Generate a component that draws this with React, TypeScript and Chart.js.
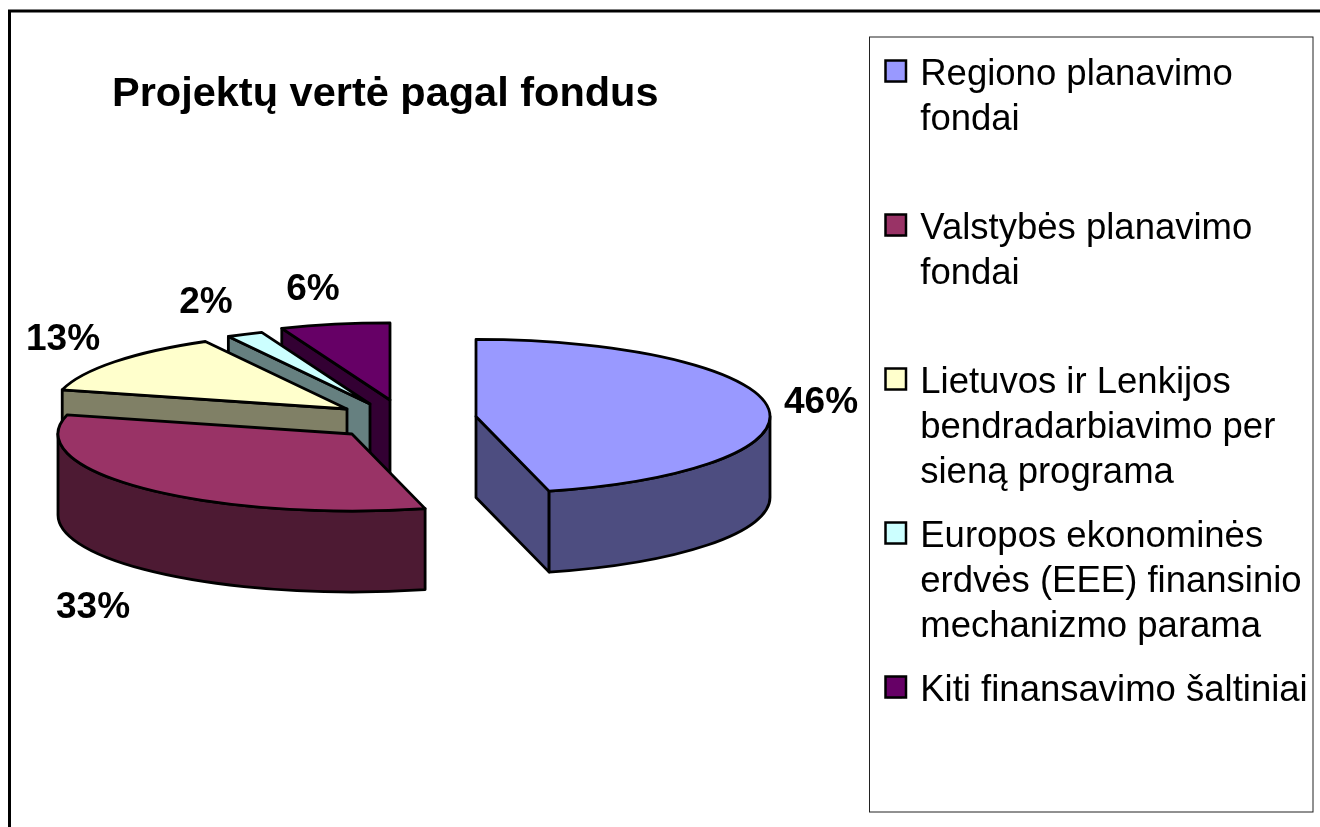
import React, { useEffect, useRef } from "react";
import { Chart, registerables } from "chart.js";

Chart.register(...registerables);

const categories = [
  ["Regiono planavimo", "fondai", ""],
  ["Valstybės planavimo", "fondai", ""],
  ["Lietuvos ir Lenkijos", "bendradarbiavimo per", "sieną programa"],
  ["Europos ekonominės", "erdvės (EEE) finansinio", "mechanizmo parama"],
  ["Kiti finansavimo šaltiniai", "", ""],
];
const shares = [46, 33, 13, 2, 6];
const topColors = ["#9999FF", "#993366", "#FFFFCC", "#CCFFFF", "#660066"];
const sideColors = ["#4D4D80", "#4D1A33", "#808066", "#668080", "#330033"];
const centers = [
  [476, 416.5],
  [352, 434],
  [347, 409],
  [370, 404],
  [390, 400],
];
const labelSpots = [
  [821, 403],
  [93, 608],
  [63, 340],
  [206, 303],
  [313, 290],
];
const drawOrder = [4, 3, 2, 1, 0];
const squash = 0.262;
const depth = 81;
const pieRadius = 294;
const legendRowPitch = 154;

const pie3d = {
  id: "pie3d",
  afterLayout(chart: any) {
    const t = chart.titleBlock;
    t.left = 112;
    t.right = 760;
    const l = chart.legend;
    l.left = 868;
    l.right = 1312;
    l.top = 37.5;
  },
  beforeDraw(chart: any) {
    const { ctx } = chart;
    ctx.save();
    ctx.fillStyle = "#fff";
    ctx.fillRect(0, 0, 1320, 827);
    ctx.strokeStyle = "#000";
    ctx.lineWidth = 3;
    ctx.beginPath();
    ctx.moveTo(9.5, 827);
    ctx.lineTo(9.5, 11);
    ctx.lineTo(1320, 11);
    ctx.stroke();
    ctx.lineWidth = 1;
    ctx.strokeStyle = "#222";
    ctx.strokeRect(869.5, 37, 443.5, 775);
    ctx.restore();
  },
  beforeDatasetsDraw(chart: any) {
    const { ctx } = chart;
    const arcs = chart.getDatasetMeta(0).data;
    ctx.save();
    ctx.lineWidth = 2.8;
    ctx.strokeStyle = "#000";
    ctx.lineJoin = "round";
    for (const i of drawOrder) {
      const arc = arcs[i];
      const r = arc.outerRadius;
      const ry = r * squash;
      const a0 = arc.startAngle;
      const a1 = arc.endAngle;
      const [cx, cy] = centers[i];
      ctx.fillStyle = sideColors[i];
      const walls: number[] = [];
      if (Math.cos(a0) < -1e-6) walls.push(a0);
      if (Math.cos(a1) > 1e-6) walls.push(a1);
      for (const a of walls) {
        const px = cx + Math.cos(a) * r;
        const py = cy + Math.sin(a) * ry;
        ctx.beginPath();
        ctx.moveTo(cx, cy);
        ctx.lineTo(px, py);
        ctx.lineTo(px, py + depth);
        ctx.lineTo(cx, cy + depth);
        ctx.closePath();
        ctx.fill();
        ctx.stroke();
      }
      const s = Math.max(a0, 0);
      const e = Math.min(a1, Math.PI);
      if (e > s) {
        ctx.beginPath();
        ctx.ellipse(cx, cy, r, ry, 0, s, e);
        ctx.ellipse(cx, cy + depth, r, ry, 0, e, s, true);
        ctx.closePath();
        ctx.fill();
        ctx.stroke();
      }
      ctx.fillStyle = topColors[i];
      ctx.beginPath();
      ctx.moveTo(cx, cy);
      ctx.ellipse(cx, cy, r, ry, 0, a0, a1);
      ctx.closePath();
      ctx.fill();
      ctx.stroke();
    }
    ctx.restore();
    return false;
  },
  afterDraw(chart: any) {
    const { ctx } = chart;
    ctx.save();
    ctx.fillStyle = "#000";
    ctx.font = "bold 37px 'Liberation Sans'";
    ctx.textAlign = "center";
    ctx.textBaseline = "middle";
    shares.forEach((v, i) => {
      ctx.fillText(v + "%", labelSpots[i][0], labelSpots[i][1]);
    });
    ctx.lineWidth = 2.5;
    ctx.strokeStyle = "#000";
    shares.forEach((_, i) => {
      const y = 60.5 + i * legendRowPitch;
      ctx.fillStyle = topColors[i];
      ctx.fillRect(885.5, y, 20.5, 21);
      ctx.strokeRect(885.5, y, 20.5, 21);
    });
    ctx.restore();
  },
};

export default function App() {
  const ref = useRef<HTMLCanvasElement>(null);
  useEffect(() => {
    const chart = new Chart(ref.current as HTMLCanvasElement, {
      type: "pie",
      data: {
        labels: categories as any,
        datasets: [
          {
            data: shares,
            backgroundColor: topColors,
            borderColor: "#000",
            borderWidth: 2,
            radius: pieRadius,
          } as any,
        ],
      },
      options: {
        responsive: false,
        animation: false,
        layout: { padding: 0 },
        plugins: {
          tooltip: { enabled: false },
          title: {
            display: true,
            text: "Projektų vertė pagal fondus",
            align: "start",
            color: "#000",
            font: { family: "'Liberation Sans'", size: 41.5, weight: "bold", lineHeight: 1.15 },
            padding: { top: 71, bottom: 10 },
          },
          legend: {
            display: true,
            position: "right",
            align: "start",
            labels: {
              color: "#000",
              boxWidth: 15,
              boxHeight: 15,
              padding: 19,
              font: { family: "'Liberation Sans'", size: 36.5, lineHeight: "45px" },
              generateLabels: () =>
                categories.map((text, i) => ({
                  text,
                  fillStyle: topColors[i],
                  strokeStyle: topColors[i],
                  lineWidth: 0,
                  index: i,
                })) as any,
            },
          },
        },
      } as any,
      plugins: [pie3d],
    });
    return () => chart.destroy();
  }, []);
  return (
    <canvas
      ref={ref}
      width={1320}
      height={827}
      style={{ position: "fixed", left: 0, top: 0, width: 1320, height: 827 }}
    />
  );
}
